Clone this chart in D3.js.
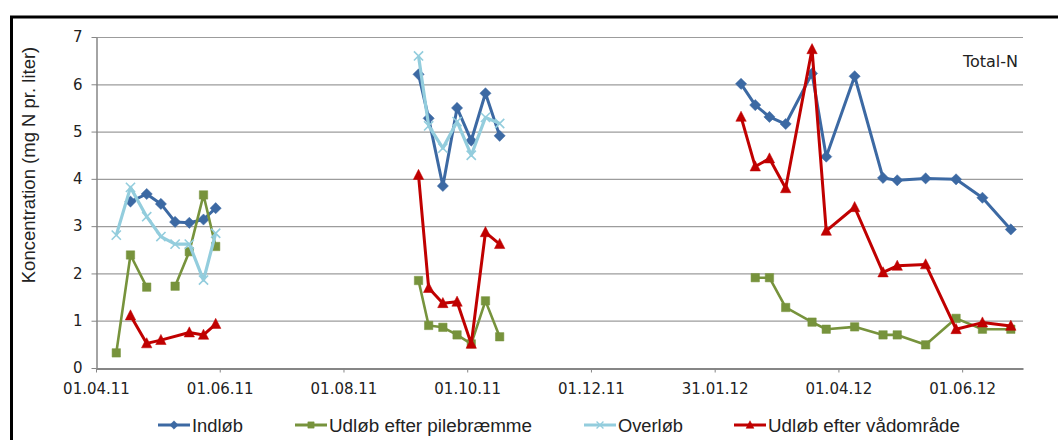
<!DOCTYPE html>
<html><head><meta charset="utf-8">
<script src="https://cdn.jsdelivr.net/npm/d3@7"></script>
<style>body{margin:0;background:#fff}svg{display:block}</style>
</head><body>
<svg id="c" width="1058" height="440"></svg>
<script>
// ---------- DATA ----------
const xTickLabels = ["01.04.11","01.06.11","01.08.11","01.10.11","01.12.11","31.01.12","01.04.12","01.06.12"];
const yTickValues = [0,1,2,3,4,5,6,7];
const yTitle = "Koncentration (mg N pr. liter)";
const chartLabel = "Total-N";

// Indløb
const indlobDates  = ["2011-04-18","2011-04-26","2011-05-03","2011-05-10","2011-05-17","2011-05-24","2011-05-30",
                      "2011-07-15",
                      "2011-09-07","2011-09-12","2011-09-19","2011-09-26","2011-10-03","2011-10-10","2011-10-17",
                      "2011-12-15",
                      "2012-02-13","2012-02-20","2012-02-27","2012-03-06","2012-03-19","2012-03-26","2012-04-09",
                      "2012-04-23","2012-04-30","2012-05-14","2012-05-29","2012-06-11","2012-06-25"];
const indlobValues = [3.52,3.68,3.47,3.09,3.07,3.14,3.38,
                      null,
                      6.21,5.28,3.85,5.50,4.81,5.81,4.91,
                      null,
                      6.01,5.56,5.31,5.16,6.23,4.47,6.17,4.02,3.97,4.01,3.99,3.60,2.93];

// Udløb efter pilebræmme
const pileDates  = ["2011-04-11","2011-04-18","2011-04-26","2011-05-03","2011-05-10","2011-05-17","2011-05-24","2011-05-30",
                    "2011-07-15",
                    "2011-09-07","2011-09-12","2011-09-19","2011-09-26","2011-10-03","2011-10-10","2011-10-17",
                    "2011-12-15",
                    "2012-02-20","2012-02-27","2012-03-06","2012-03-19","2012-03-26","2012-04-09",
                    "2012-04-23","2012-04-30","2012-05-14","2012-05-29","2012-06-11","2012-06-25"];
const pileValues = [0.32,2.39,1.71,null,1.73,2.46,3.66,2.57,
                    null,
                    1.85,0.90,0.86,0.70,0.51,1.42,0.66,
                    null,
                    1.91,1.91,1.28,0.97,0.82,0.87,0.70,0.70,0.49,1.05,0.82,0.82];

// Overløb
const overDates  = ["2011-04-11","2011-04-18","2011-04-26","2011-05-03","2011-05-10","2011-05-17","2011-05-24","2011-05-30",
                    "2011-07-15",
                    "2011-09-07","2011-09-12","2011-09-19","2011-09-26","2011-10-03","2011-10-10","2011-10-17"];
const overValues = [2.81,3.82,3.20,2.78,2.62,2.62,1.86,2.85,
                    null,
                    6.60,5.12,4.65,5.21,4.50,5.30,5.17];

// Udløb efter vådområde
const vadDates  = ["2011-04-18","2011-04-26","2011-05-03","2011-05-17","2011-05-24","2011-05-30",
                   "2011-07-15",
                   "2011-09-07","2011-09-12","2011-09-19","2011-09-26","2011-10-03","2011-10-10","2011-10-17",
                   "2011-12-15",
                   "2012-02-13","2012-02-20","2012-02-27","2012-03-06","2012-03-19","2012-03-26","2012-04-09",
                   "2012-04-23","2012-04-30","2012-05-14","2012-05-29","2012-06-11","2012-06-25"];
const vadValues = [1.11,0.52,0.59,0.75,0.70,0.93,
                   null,
                   4.08,1.69,1.37,1.40,0.51,2.87,2.62,
                   null,
                   5.31,4.26,4.43,3.80,6.74,2.90,3.40,2.02,2.16,2.19,0.82,0.96,0.89];

const seriesNames = ["Indløb","Udløb efter pilebræmme","Overløb","Udløb efter vådområde"];
const seriesDates = [indlobDates, pileDates, overDates, vadDates];
const seriesValues = [indlobValues, pileValues, overValues, vadValues];

// ---------- STYLE / LAYOUT ----------
const colors = ["#3C69A3","#77933C","#93CDDD","#C00000"];
const markers = ["diamond","square","x","triangle"];
const lineW = [3,2.6,3.2,3];
const M = {left:96, right:1023, top:37, bottom:368};

const parseISO = d3.utcParse("%Y-%m-%d");
const parseTick = d3.utcParse("%d.%m.%y");
const fmtTick = d3.utcFormat("%d.%m.%y");

const svg = d3.select("#c");

// outer frame
svg.append("rect").attr("x",11.5).attr("y",17).attr("width",1100).attr("height",500)
  .attr("fill","none").attr("stroke","#000").attr("stroke-width",3);

const x = d3.scaleUtc().domain([parseISO("2011-04-01"), parseISO("2012-07-01")]).range([M.left, M.right]);
const y = d3.scaleLinear().domain([0,7]).range([M.bottom, M.top]);

// gridlines
svg.append("g").selectAll("line").data(yTickValues.filter(v=>v>0)).join("line")
  .attr("x1",M.left).attr("x2",M.right)
  .attr("y1",d=>y(d)+0.5).attr("y2",d=>y(d)+0.5)
  .attr("stroke","#9C9C9C").attr("stroke-width",1.2);

// y axis
const yAxis = svg.append("g").attr("transform",`translate(${M.left+0.5},0)`)
  .call(d3.axisLeft(y).tickValues(yTickValues).tickFormat(d3.format("d")).tickSize(5).tickPadding(9).tickSizeOuter(0));
yAxis.selectAll("text").attr("font-family","DejaVu Sans").attr("font-size",15).attr("fill","#222");
yAxis.selectAll("line").attr("stroke","#868686");
yAxis.select(".domain").attr("stroke","#868686").attr("stroke-width",1.5);

// x axis
const xAxis = svg.append("g").attr("transform",`translate(0,${M.bottom+0.5})`)
  .call(d3.axisBottom(x).tickValues(xTickLabels.map(parseTick)).tickFormat(fmtTick).tickSize(4).tickPadding(11).tickSizeOuter(0));
xAxis.selectAll("text").attr("font-family","DejaVu Sans").attr("font-size",15).attr("fill","#222");
xAxis.selectAll("line").attr("stroke","#868686");
xAxis.select(".domain").attr("stroke","#868686").attr("stroke-width",2);

// y title
svg.append("text").attr("transform",`translate(35,165) rotate(-90)`)
  .attr("text-anchor","middle").attr("font-family","Liberation Sans").attr("font-size",18.5)
  .attr("fill","#222").text(yTitle);

// Total-N
svg.append("text").attr("x",1018).attr("y",67).attr("text-anchor","end")
  .attr("font-family","DejaVu Sans").attr("font-size",16).attr("fill","#222").text(chartLabel);

function markerPath(kind, s){
  const k = s||1;
  if(kind==="diamond"){const r=5.6*k;return `M0,${-r}L${r},0L0,${r}L${-r},0Z`;}
  if(kind==="square"){const r=4.2*k;return `M${-r},${-r}H${r}V${r}H${-r}Z`;}
  if(kind==="triangle"){const r=5.2*k;return `M0,${-r*1.1}L${r},${r*0.85}L${-r},${r*0.85}Z`;}
  const r=4.6*k;return `M${-r},${-r}L${r},${r}M${-r},${r}L${r},${-r}`;
}

const plot = svg.append("g");
seriesNames.forEach((name,i)=>{
  const pts = seriesDates[i].map((d,j)=>({date:parseISO(d), v:seriesValues[i][j]}));
  const line = d3.line().defined(p=>p.v!==null).x(p=>x(p.date)).y(p=>y(p.v));
  plot.append("path").datum(pts).attr("d",line).attr("fill","none")
    .attr("stroke",colors[i]).attr("stroke-width",lineW[i]).attr("stroke-linejoin","round");
  const g = plot.append("g");
  g.selectAll("path").data(pts.filter(p=>p.v!==null)).join("path")
    .attr("transform",p=>`translate(${x(p.date)},${y(p.v)})`)
    .attr("d",markerPath(markers[i]))
    .attr("fill",markers[i]==="x"?"none":colors[i])
    .attr("stroke",colors[i]).attr("stroke-width",markers[i]==="x"?1.6:0.5);
});

// legend
const legX = [158,295,584,734];
const legY = 425;
const legW = [51,203,65,192];
seriesNames.forEach((name,i)=>{
  const g = svg.append("g");
  g.append("line").attr("x1",legX[i]).attr("x2",legX[i]+32).attr("y1",legY).attr("y2",legY)
    .attr("stroke",colors[i]).attr("stroke-width",3);
  g.append("path").attr("transform",`translate(${legX[i]+16},${legY})`).attr("d",markerPath(markers[i],0.75))
    .attr("fill",markers[i]==="x"?"none":colors[i]).attr("stroke",colors[i]).attr("stroke-width",markers[i]==="x"?1.3:0.5);
  g.append("text").attr("x",legX[i]+34).attr("y",legY+6.5)
    .attr("font-family","Liberation Sans").attr("font-size",18)
    .attr("textLength",legW[i]).attr("lengthAdjust","spacingAndGlyphs")
    .attr("fill","#222").text(name);
});
</script>
</body></html>
